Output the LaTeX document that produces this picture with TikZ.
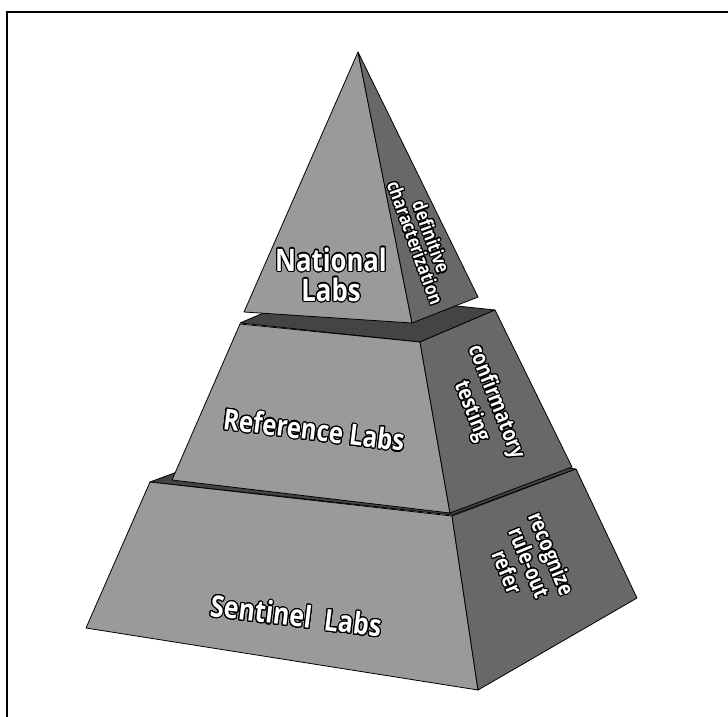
\documentclass[tikz,border=0pt]{standalone}
\usepackage{fontspec}
\newfontfamily\labfont{Open Sans}[FakeStretch=0.83]
\usepackage{contour}
\contourlength{1.1pt}
\contournumber{24}
\definecolor{frontgray}{HTML}{9A9A9A}
\definecolor{sidegray}{HTML}{686868}
\definecolor{topgray}{HTML}{444444}
\newcommand{\lab}[1]{\contour{black}{#1}}
\tikzset{
  face/.style={draw=black,line width=0.8pt,line join=round},
  frontface/.style={face,fill=frontgray},
  sideface/.style={face,fill=sidegray},
  topface/.style={face,fill=topgray},
  tierlabel/.style={text=white,align=center,inner sep=0pt,
    font=\labfont\bfseries\fontsize{29}{30}\selectfont},
  sidelabel/.style={text=white,align=center,inner sep=0pt,
    font=\labfont\bfseries\fontsize{22}{24}\selectfont}
}
\begin{document}
\begin{tikzpicture}[x=1pt,y=-1pt]
      \useasboundingbox (0,0) rectangle (728,717);
      % Frame
      \draw[line width=2pt] (728,12) -- (7,12) -- (7,717);
      % Bottom tier
      \draw[topface]
        (150,482) -- (452,515) -- (576,469) -- (274,436) -- cycle;
      \draw[frontface]
        (150,482) coordinate (B1)
        -- (452,516) coordinate (B2)
        -- (478,690) coordinate (B3)
        -- (86,628) coordinate (B4)
        -- cycle;
      \draw[sideface]
        (B2) -- (576,469) coordinate (B5)
        -- (637,598) coordinate (B6)
        -- (B3) -- cycle;
      % Middle tier
      \draw[topface]
        (240,323) -- (420,342) -- (495,310) -- (315,291) -- cycle;
      \draw[frontface]
        (240,324) coordinate (M1)
        -- (420,342) coordinate (M2)
        -- (450,513) coordinate (M3)
        -- (172,480) coordinate (M4)
        -- cycle;
      \draw[sideface]
        (M2) -- (495,310) coordinate (M5)
        -- (572,467) coordinate (M6)
        -- (M3) -- cycle;
      % Upper pyramid
      \draw[frontface]
        (358,52) coordinate (T1)
        -- (412,323) coordinate (T2)
        -- (244,312) coordinate (T3)
        -- cycle;
      \draw[sideface]
        (T1) -- (478,297) coordinate (T4)
        -- (T2) -- cycle;
      % Labels
      \node[tierlabel,font=\labfont\bfseries\fontsize{31}{30}\selectfont]
        (national) at (331,275) {\lab{National}\\\lab{Labs}};
      \node[tierlabel,rotate=-7] (reference) at (314,430) {\lab{Reference Labs}};
      \node[tierlabel,rotate=-7,font=\labfont\bfseries\fontsize{30}{30}\selectfont]
        (sentinel) at (296,616) {\lab{Sentinel~~Labs}};
      \node[sidelabel,rotate=-70,font=\labfont\bfseries\fontsize{19}{17}\selectfont]
        (definitive) at (423,240) {\lab{definitive}\\\lab{characterization}};
      \node[sidelabel,rotate=-68.5,font=\labfont\bfseries\fontsize{22}{26}\selectfont]
        (confirmatory) at (483,407) {\lab{confirmatory}\\\lab{testing}};
      \node[sidelabel,rotate=-67.6]
        (recognize) at (529,563) {\lab{recognize}\\\lab{rule-out}\\\lab{refer}};
\end{tikzpicture}
\end{document}
